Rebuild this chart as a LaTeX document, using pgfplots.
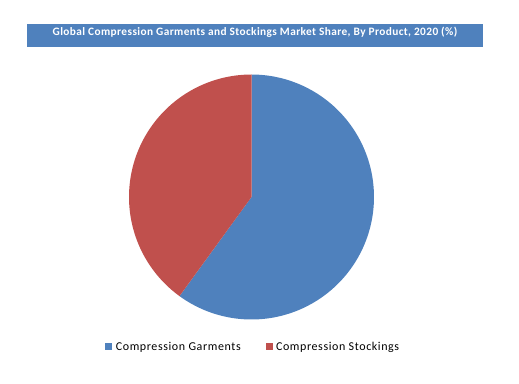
\documentclass[border=0pt]{standalone}
\usepackage{pgfplots}
\pgfplotsset{compat=1.18}
\usepackage{fontspec}
\setmainfont{Carlito}
\newfontfamily\titlefont[LetterSpace=3.5]{Carlito}
\newfontfamily\legfont[LetterSpace=5]{Carlito}
\definecolor{cblue}{HTML}{4F81BD}
\definecolor{cred}{HTML}{C0504D}
% market shares (%)
\def\garments{60}
\def\stockings{40}
\begin{document}
\begin{tikzpicture}
\pgfmathsetmacro{\splitangle}{90-3.6*\garments}
\pgfmathsetmacro{\endangle}{90+3.6*\stockings}
\begin{axis}[
  x=0.75pt, y=0.75pt,
  xmin=0, xmax=519, ymin=0, ymax=383,
  hide axis, clip=false,
  legend columns=2,
  legend style={at={(axis cs:254,36)}, anchor=center, draw=none, fill=none,
    font=\legfont\fontsize{9}{10}\selectfont, inner sep=0pt,
    nodes={inner xsep=2.6pt},
    /tikz/every even column/.append style={column sep=16pt}},
  legend image code/.code={\fill[#1] (0pt,-2.2pt) rectangle (5.3pt,3.1pt);},
]
\path (axis cs:0,0) rectangle (axis cs:519,383);
\fill[cblue] (axis cs:27,336) rectangle (axis cs:483,359);
\node[text=white, font=\titlefont\bfseries\fontsize{8.5}{10}\selectfont] at (axis cs:255,351) {Global Compression Garments and Stockings Market Share, By Product, 2020 (\%)};
\addplot[draw=none, fill=cblue, domain=\splitangle:90, samples=150, variable=\t]
  ({251.5+122.5*cos(\t)},{186+122.5*sin(\t)}) -- (axis cs:251.5,186) -- cycle;
\addlegendentry{Compression Garments}
\addplot[draw=none, fill=cred, domain=90:\endangle, samples=120, variable=\t]
  ({251.5+122.5*cos(\t)},{186+122.5*sin(\t)}) -- (axis cs:251.5,186) -- cycle;
\addlegendentry{Compression Stockings}
\end{axis}
\end{tikzpicture}
\end{document}
